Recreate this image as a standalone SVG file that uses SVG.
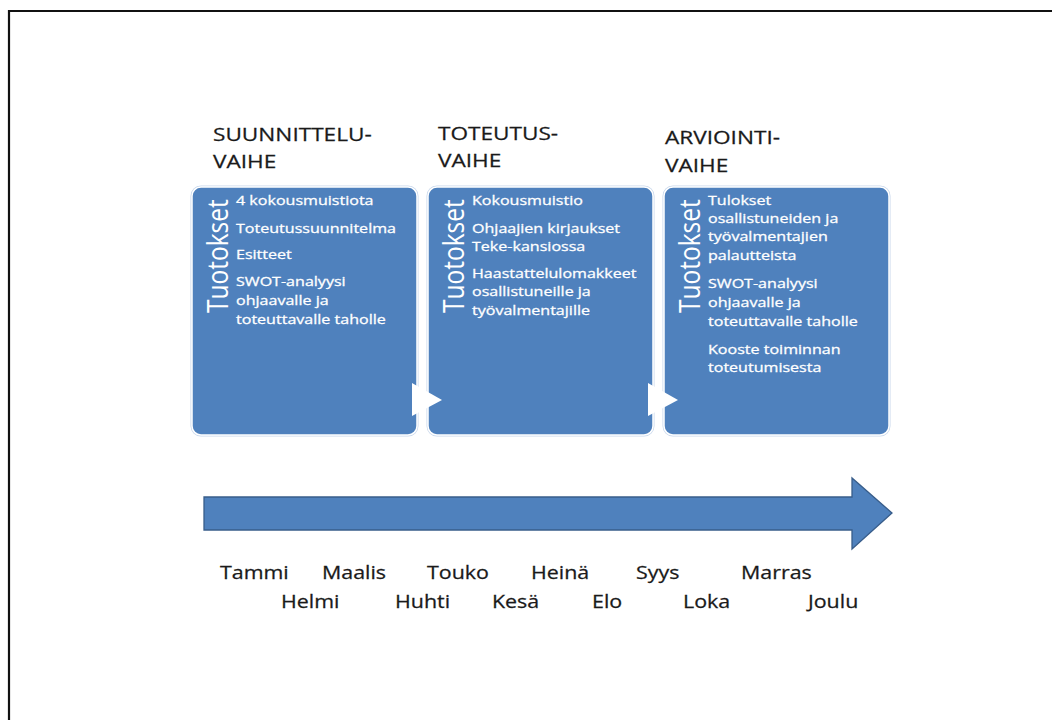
<svg xmlns="http://www.w3.org/2000/svg" width="1052" height="720" viewBox="0 0 1052 720">
  <style>
    .hdr { font-family: "Open Sans", "Liberation Sans", sans-serif; font-size: 19px; fill: #1a1a1a; stroke: #1a1a1a; stroke-width: 0.25; }
    .body { font-family: "Open Sans", "Liberation Sans", sans-serif; font-size: 13.5px; fill: #ffffff; stroke: #ffffff; stroke-width: 0.3; }
    .vert { font-family: "Open Sans", "Liberation Sans", sans-serif; font-size: 24.5px; fill: #ffffff; }
    .month { font-family: "Open Sans", "Liberation Sans", sans-serif; font-size: 18px; fill: #1a1a1a; stroke: #1a1a1a; stroke-width: 0.25; }
    .box { fill: #4f81bd; stroke: #ffffff; stroke-width: 1.5; }
    .halo { fill: none; stroke: #c9d8ec; stroke-width: 3; }
    .chev { fill: #ffffff; }
  </style>

  <rect x="0" y="0" width="1052" height="720" fill="#ffffff"/>
  <!-- page frame: left and top edges -->
  <path d="M9,720 V11 H1052" fill="none" stroke="#111111" stroke-width="2.2"/>

  <!-- phase 1 -->
  <g id="suunnitteluvaihe">
    <text class="hdr" transform="translate(213,0) scale(1.19,1)"><tspan x="0" y="141">SUUNNITTELU-</tspan><tspan x="0" y="168">VAIHE</tspan></text>
    <rect class="halo" x="192" y="187" width="225" height="248" rx="9"/>
    <rect class="box" x="192" y="187" width="225" height="248" rx="9"/>
    <text class="vert" transform="translate(228,313) scale(1.19,1) rotate(-90)" x="0" y="0">Tuotokset</text>
    <text class="body" transform="translate(236,0) scale(1.19,1)">
      <tspan x="0" y="205">4 kokousmuistiota</tspan>
      <tspan x="0" y="233">Toteutussuunnitelma</tspan>
      <tspan x="0" y="259">Esitteet</tspan>
      <tspan x="0" y="286">SWOT-analyysi</tspan>
      <tspan x="0" y="305">ohjaavalle ja</tspan>
      <tspan x="0" y="324">toteuttavalle taholle</tspan>
    </text>
  </g>

  <!-- phase 2 -->
  <g id="toteutusvaihe">
    <text class="hdr" transform="translate(438,0) scale(1.19,1)"><tspan x="0" y="140">TOTEUTUS-</tspan><tspan x="0" y="167">VAIHE</tspan></text>
    <rect class="halo" x="428" y="187" width="225" height="248" rx="9"/>
    <rect class="box" x="428" y="187" width="225" height="248" rx="9"/>
    <text class="vert" transform="translate(464,313) scale(1.19,1) rotate(-90)" x="0" y="0">Tuotokset</text>
    <text class="body" transform="translate(472,0) scale(1.19,1)">
      <tspan x="0" y="205">Kokousmuistio</tspan>
      <tspan x="0" y="233">Ohjaajien kirjaukset</tspan>
      <tspan x="0" y="251">Teke-kansiossa</tspan>
      <tspan x="0" y="278">Haastattelulomakkeet</tspan>
      <tspan x="0" y="296">osallistuneille ja</tspan>
      <tspan x="0" y="315">työvalmentajille</tspan>
    </text>
  </g>

  <!-- phase 3 -->
  <g id="arviointivaihe">
    <text class="hdr" transform="translate(665,0) scale(1.19,1)"><tspan x="0" y="144">ARVIOINTI-</tspan><tspan x="0" y="172">VAIHE</tspan></text>
    <rect class="halo" x="664" y="187" width="225" height="248" rx="9"/>
    <rect class="box" x="664" y="187" width="225" height="248" rx="9"/>
    <text class="vert" transform="translate(700,313) scale(1.19,1) rotate(-90)" x="0" y="0">Tuotokset</text>
    <text class="body" transform="translate(708,0) scale(1.19,1)">
      <tspan x="0" y="205">Tulokset</tspan>
      <tspan x="0" y="223">osallistuneiden ja</tspan>
      <tspan x="0" y="241">työvalmentajien</tspan>
      <tspan x="0" y="260">palautteista</tspan>
      <tspan x="0" y="288">SWOT-analyysi</tspan>
      <tspan x="0" y="307">ohjaavalle ja</tspan>
      <tspan x="0" y="326">toteuttavalle taholle</tspan>
      <tspan x="0" y="354">Kooste toiminnan</tspan>
      <tspan x="0" y="372">toteutumisesta</tspan>
    </text>
  </g>

  <!-- chevrons linking the phases -->
  <g id="connectors">
    <polygon class="chev" points="412,383 442,400 412,416"/>
    <polygon class="chev" points="648,383 678,400 648,416"/>
  </g>

  <!-- timeline -->
  <g id="timeline">
    <polygon points="204,497 852,497 852,478 892,513 852,549 852,530 204,530" fill="#4f81bd" stroke="#385d8a" stroke-width="1.3"/>
  </g>

  <g id="months">
    <text class="month" transform="translate(220,579) scale(1.19,1)">Tammi</text>
    <text class="month" transform="translate(322,579) scale(1.19,1)">Maalis</text>
    <text class="month" transform="translate(427,579) scale(1.19,1)">Touko</text>
    <text class="month" transform="translate(531,579) scale(1.19,1)">Heinä</text>
    <text class="month" transform="translate(636,579) scale(1.19,1)">Syys</text>
    <text class="month" transform="translate(741,579) scale(1.19,1)">Marras</text>
    <text class="month" transform="translate(281,608) scale(1.19,1)">Helmi</text>
    <text class="month" transform="translate(395,608) scale(1.19,1)">Huhti</text>
    <text class="month" transform="translate(492,608) scale(1.19,1)">Kesä</text>
    <text class="month" transform="translate(592,608) scale(1.19,1)">Elo</text>
    <text class="month" transform="translate(683,608) scale(1.19,1)">Loka</text>
    <text class="month" transform="translate(808,608) scale(1.19,1)">Joulu</text>
  </g>
</svg>
